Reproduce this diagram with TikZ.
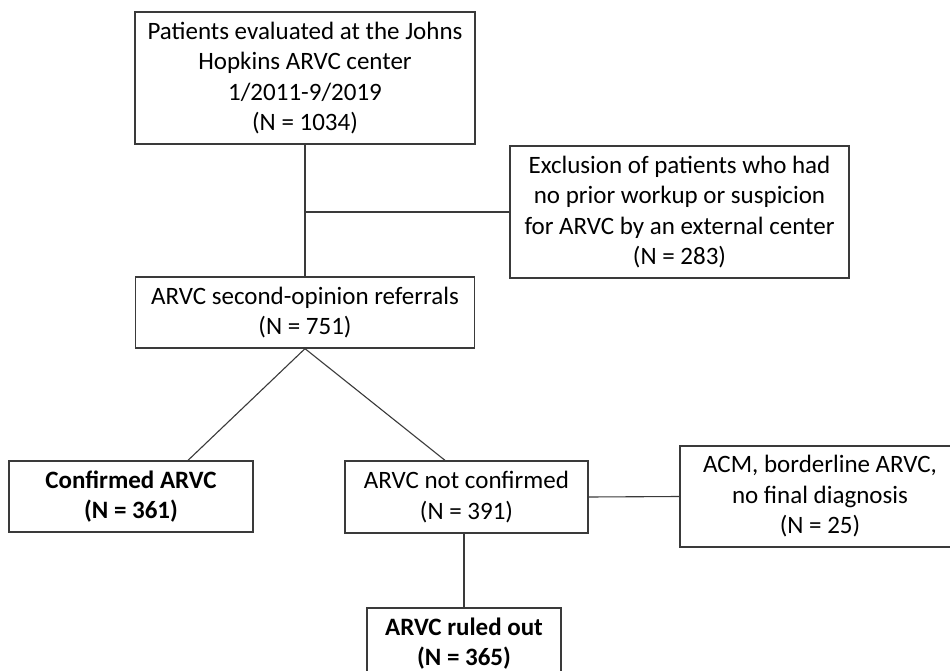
\documentclass[tikz,border=0pt]{standalone}
\usepackage{fontspec}
\setmainfont{Carlito}
\usepackage{xcolor}
\usepackage{tikz}
\definecolor{frame}{HTML}{3A3A3A}
\definecolor{ink}{HTML}{000000}
\tikzset{
  box/.style={draw=frame, line width=1.3pt, fill=white, text=ink, align=center,
    inner sep=0pt, font=\fontsize{25}{30.5}\selectfont},
  link/.style={draw=frame, line width=1.1pt},
  hit/.style={font=\fontsize{25}{30.5}\selectfont\bfseries}
}

\begin{document}
\begin{tikzpicture}[x=1pt,y=-1pt]
  \clip (0,0) rectangle (950,671);
  \fill[white] (0,0) rectangle (950,671);

  \node[box, minimum width=340pt, minimum height=132pt] (top) at (305,78)
    {Patients evaluated at the Johns\\Hopkins ARVC center\\1/2011-9/2019\\(N = 1034)};
  \node[box, minimum width=339pt, minimum height=132pt] (excl) at (679.5,212)
    {Exclusion of patients who had\\no prior workup or suspicion\\for ARVC by an external center\\(N = 283)};
  \node[box, minimum width=339pt, minimum height=71pt] (second) at (305,312.5)
    {ARVC second-opinion referrals\\(N = 751)};
  \node[box, hit, minimum width=244pt, minimum height=71pt] (conf) at (131,496.5)
    {Confirmed ARVC\\(N = 361)};
  \node[box, minimum width=243pt, minimum height=72pt] (notconf) at (466.5,497)
    {ARVC not confirmed\\(N = 391)};
  \node[box, minimum width=280pt, minimum height=101pt] (acm) at (820,496.5)
    {ACM, borderline ARVC,\\no final diagnosis\\(N = 25)};
  \node[box, hit, minimum width=194pt, minimum height=71pt] (out) at (464,643.5)
    {ARVC ruled out\\(N = 365)};

  \coordinate (split) at (top.south |- excl.west);
  \draw[link] (top.south) -- (second.north);
  \draw[link] (split) -- (excl.west);

  \draw[link] (second.south) -- (conf.north -| 188,0);
  \draw[link] (second.south) -- (notconf.north -| 445,0);
  \draw[link] (notconf.east) -- (acm.west);
  \draw[link] (out.north |- notconf.south) -- (out.north);
\end{tikzpicture}
\end{document}
